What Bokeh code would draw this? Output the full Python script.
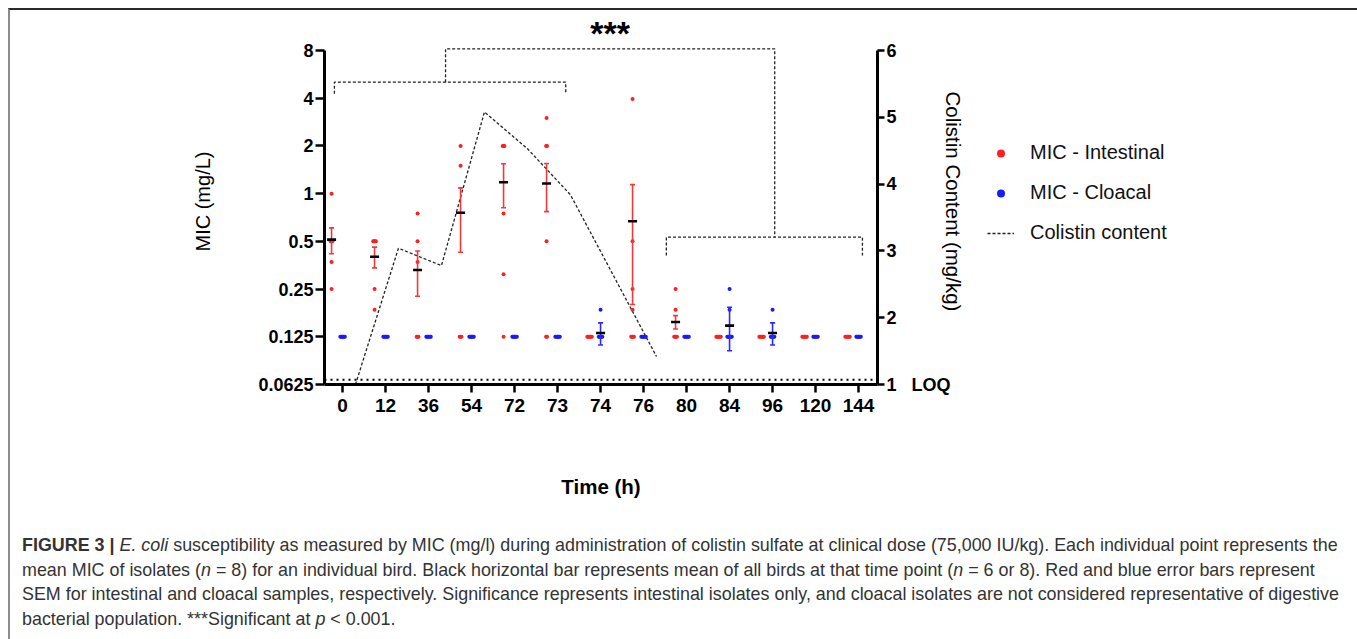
import math
from collections import Counter

from bokeh.plotting import figure
from bokeh.models import (Range1d, LinearAxis, LinearScale, FixedTicker, CustomJSTickFormatter,
                          ColumnDataSource, Label, Legend, LegendItem, Div)
from bokeh.layouts import column, row
from bokeh.embed import file_html
from bokeh.resources import INLINE

NaN = float("nan")

# ---------------- data ----------------
times = ["0", "12", "36", "54", "72", "73", "74", "76", "80", "84", "96", "120", "144"]
mic_ticks = [0.0625, 0.125, 0.25, 0.5, 1, 2, 4, 8]
colistin_ticks = [1, 2, 3, 4, 5, 6]

intestinal_points = [
    [1.0, 0.5, 0.5, 0.5, 0.37, 0.25],
    [0.5, 0.5, 0.5, 0.5, 0.25, 0.185],
    [0.75, 0.5, 0.37, 0.125, 0.125, 0.125],
    [2.0, 1.5, 0.125, 0.125, 0.125],
    [2.0, 2.0, 2.0, 0.75, 0.31, 0.125],
    [3.0, 2.0, 2.0, 0.5, 0.125, 0.125],
    [0.125, 0.125, 0.125, 0.125, 0.125, 0.125],
    [3.95, 0.5, 0.25, 0.185, 0.125, 0.125, 0.125, 0.125],
    [0.25, 0.185, 0.125, 0.125, 0.125, 0.125],
    [0.125, 0.125, 0.125, 0.125, 0.125, 0.125],
    [0.125, 0.125, 0.125, 0.125, 0.125, 0.125],
    [0.125, 0.125, 0.125, 0.125, 0.125, 0.125],
    [0.125, 0.125, 0.125, 0.125, 0.125, 0.125],
]
intestinal_mean = [0.513, 0.40, 0.33, 0.757, 1.18, 1.16, NaN, 0.67, 0.155, NaN, NaN, NaN, NaN]
intestinal_sem = [0.095, 0.06, 0.105, 0.33, 0.365, 0.39, NaN, 0.47, 0.015, NaN, NaN, NaN, NaN]

cloacal_points = [
    [0.125] * 6,
    [0.125] * 6,
    [0.125] * 6,
    [0.125] * 6,
    [0.125] * 6,
    [0.125] * 6,
    [0.185, 0.125, 0.125, 0.125, 0.125, 0.125],
    [0.125] * 6,
    [0.125] * 6,
    [0.25, 0.185, 0.125, 0.125, 0.125, 0.125, 0.125, 0.125],
    [0.185, 0.125, 0.125, 0.125, 0.125, 0.125],
    [0.125] * 6,
    [0.125] * 6,
]
cloacal_mean = [NaN, NaN, NaN, NaN, NaN, NaN, 0.132, NaN, NaN, 0.147, 0.132, NaN, NaN]
cloacal_sem = [NaN, NaN, NaN, NaN, NaN, NaN, 0.021, NaN, NaN, 0.045, 0.021, NaN, NaN]

colistin_times = ["0", "12", "36", "54", "72", "73", "76"]
colistin_content = [1.0, 3.04, 2.78, 5.08, 4.53, 3.84, 1.42]
loq = 1.07
loq_text = "LOQ"

legend_labels = ["MIC - Intestinal", "MIC - Cloacal", "Colistin content"]

# significance brackets (category-index span, bar level, leg level on MIC axis)
sig_left = dict(x0=-0.19, x1=5.19, bar=5.05, leg=4.27, hook=2.395)
sig_right = dict(x0=7.53, x1=12.09, bar=0.531, leg=0.407, hook=10.05)
sig_top = 8.2
sig_text = "***"

# ---------------- geometry ----------------
PX = 1 / 43.0            # one pixel in category units
RED_OFF = -11 * PX
BLUE_OFF = 0.0
STEP = 0.9 * PX
COL_OFF = 0.30

TOTAL_W = 1343
FIG_W, FIG_H = 970, 505
LEG_W = TOTAL_W - FIG_W
LEFT, TOP = 314, 8
FRAME_W, FRAME_H = 553, 366
AXIS_PX = 334            # pixels between 0.0625 and 8
HEAD = FRAME_H - AXIS_PX

FONT = "Liberation Sans"
RED = "#ff1f1f"
BLUE = "#1a1aff"

x_start = -0.42
x_end = x_start + FRAME_W * PX
y_end = 8 * 2 ** (7 * HEAD / AXIS_PX)
c_end = 6 + 5 * HEAD / AXIS_PX

p = figure(width=FIG_W, height=FIG_H, output_backend="svg", toolbar_location=None,
           x_range=Range1d(x_start, x_end), y_range=Range1d(0.0625, y_end),
           y_axis_type="log",
           min_border_left=LEFT, min_border_top=TOP,
           min_border_right=FIG_W - LEFT - FRAME_W,
           min_border_bottom=FIG_H - TOP - FRAME_H)
p.extra_y_ranges = {"col": Range1d(1, c_end)}
p.extra_y_scales = {"col": LinearScale()}
p.grid.visible = False
p.outline_line_color = None
p.background_fill_color = "white"
p.border_fill_color = "white"


def style_axis(ax, tick_size):
    ax.axis_line_width = 3
    ax.axis_line_color = "black"
    ax.major_tick_line_width = 2.5
    ax.major_tick_line_color = "black"
    ax.major_tick_in = 0
    ax.minor_tick_line_color = None
    ax.major_label_text_font = FONT
    ax.major_label_text_font_style = "bold"
    ax.major_label_text_font_size = tick_size
    ax.major_label_text_color = "black"
    ax.axis_label_text_font = FONT
    ax.axis_label_text_color = "black"


# x axis
xa = p.xaxis[0]
style_axis(xa, "19px")
xa.ticker = FixedTicker(ticks=list(range(len(times))))
xa.formatter = CustomJSTickFormatter(args=dict(labels=times),
                                     code="return labels[Math.round(tick)] || '';")
xa.major_tick_out = 8
xa.major_label_standoff = 6
xa.axis_label = "Time (h)"
xa.axis_label_text_font_size = "20.5px"
xa.axis_label_text_font_style = "bold"
xa.axis_label_standoff = 60

# left axis
ya = p.yaxis[0]
style_axis(ya, "18px")
ya.ticker = FixedTicker(ticks=mic_ticks)
ya.formatter = CustomJSTickFormatter(code="return String(tick);")
ya.bounds = (mic_ticks[0], mic_ticks[-1])
ya.major_tick_out = 9
ya.major_label_standoff = 2
ya.axis_label = "MIC (mg/L)"
ya.axis_label_text_font_size = "20px"
ya.axis_label_text_font_style = "normal"
ya.axis_label_standoff = 41

# right axis (the LOQ marker sits beside the lowest tick)
ra = LinearAxis(y_range_name="col")
style_axis(ra, "18px")
ra.ticker = FixedTicker(ticks=colistin_ticks)
ra.formatter = CustomJSTickFormatter(
    args=dict(lowest=colistin_ticks[0], extra=loq_text),
    code="return tick == lowest ? String(tick) + '\\u00a0\\u00a0\\u00a0' + extra : String(tick);")
ra.bounds = (colistin_ticks[0], colistin_ticks[-1])
ra.major_tick_out = 7
ra.major_label_standoff = 2
ra.axis_label = "Colistin Content (mg/kg)"
ra.axis_label_text_font_size = "20.5px"
ra.axis_label_text_font_style = "normal"
ra.axis_label_standoff = -12
p.add_layout(ra, "right")


# ---------------- marks ----------------
def swarm(values, center):
    counts = Counter(values)
    seen = Counter()
    xs = []
    for v in values:
        n, k = counts[v], seen[v]
        seen[v] += 1
        xs.append(center + (k - (n - 1) / 2) * STEP)
    return xs


def group_points(points, off):
    xs, ys = [], []
    for i, vals in enumerate(points):
        xs += swarm(vals, i + off)
        ys += vals
    return ColumnDataSource(dict(x=xs, y=ys))


def group_stats(means, sems, off):
    d = dict(x=[], m=[], lo=[], hi=[])
    for i, (m, s) in enumerate(zip(means, sems)):
        if math.isnan(m):
            continue
        d["x"].append(i + off)
        d["m"].append(m)
        d["lo"].append(m - s)
        d["hi"].append(m + s)
    return ColumnDataSource(d)


POINT_STYLE = dict(size=4, line_color=None)
COL_STYLE = dict(line_color="#222222", line_width=1.3, line_dash="3 2")

# LOQ dotted line
p.line([x_start, x_end], [loq, loq], y_range_name="col", line_color="black",
       line_width=2, line_dash="2 4")

# colistin content line
col_src = ColumnDataSource(dict(x=[times.index(t) + COL_OFF for t in colistin_times],
                                y=colistin_content))
p.line("x", "y", source=col_src, y_range_name="col", **COL_STYLE)

# brackets
bx, by = [], []
for s in (sig_left, sig_right):
    bx.append([s["x0"], s["x0"], s["x1"], s["x1"]])
    by.append([s["leg"], s["bar"], s["bar"], s["leg"]])
bx.append([sig_left["hook"], sig_left["hook"], sig_right["hook"], sig_right["hook"]])
by.append([sig_left["bar"], sig_top, sig_top, sig_right["bar"]])
p.multi_line(bx, by, line_color="#222222", line_width=1.3, line_dash="3 2")

# points
red_src = group_points(intestinal_points, RED_OFF)
blue_src = group_points(cloacal_points, BLUE_OFF)
p.scatter("x", "y", source=red_src, fill_color=RED, **POINT_STYLE)
p.scatter("x", "y", source=blue_src, fill_color=BLUE, **POINT_STYLE)

# error bars and means
for means, sems, off, color in ((intestinal_mean, intestinal_sem, RED_OFF, "#f03a3a"),
                                (cloacal_mean, cloacal_sem, BLUE_OFF, "#2a2aff")):
    st = group_stats(means, sems, off)
    p.segment("x", "lo", "x", "hi", source=st, line_color=color, line_width=1.6)
    p.scatter("x", "lo", source=st, marker="dash", size=5, line_color=color, line_width=1.6)
    p.scatter("x", "hi", source=st, marker="dash", size=5, line_color=color, line_width=1.6)
    p.scatter("x", "m", source=st, marker="dash", size=9, line_color="black", line_width=2.6)

# significance text
p.add_layout(Label(x=(sig_left["hook"] + sig_right["hook"]) / 2, y=sig_top,
                   text=sig_text, text_align="center", text_baseline="middle",
                   y_offset=16, text_font=FONT, text_font_style="bold",
                   text_font_size="34px", text_color="black"))

# ---------------- legend panel ----------------
# A companion canvas to the right of the chart holds the legend; its renderers share the
# chart's data sources, while its ranges keep those marks out of view.
pl = figure(width=LEG_W, height=FIG_H, output_backend="svg", toolbar_location=None,
            x_axis_location=None, y_axis_location=None, min_border=0,
            x_range=Range1d(-3, -2), y_range=Range1d(0, 1))
pl.grid.visible = False
pl.outline_line_color = None
pl.border_fill_color = "white"
pl.background_fill_color = "white"
lr_red = pl.scatter("x", "y", source=red_src, fill_color=RED, **POINT_STYLE)
lr_blue = pl.scatter("x", "y", source=blue_src, fill_color=BLUE, **POINT_STYLE)
lr_col = pl.line("x", "y", source=col_src, **COL_STYLE)
legend = Legend(items=[LegendItem(label=lab, renderers=[r])
                       for lab, r in zip(legend_labels, (lr_red, lr_blue, lr_col))],
                location=(7, 140), padding=0, margin=0, border_line_color=None,
                background_fill_alpha=0, glyph_width=27, glyph_height=20,
                label_height=20, spacing=17, label_standoff=16,
                label_text_font=FONT, label_text_font_size="20px",
                label_text_color="#111111")
pl.add_layout(legend)

caption_lines = [
    "<b>FIGURE 3 |</b> <i>E. coli</i> susceptibility as measured by MIC (mg/l) during administration "
    "of colistin sulfate at clinical dose (75,000 IU/kg). Each individual point represents the",
    "mean MIC of isolates (<i>n</i> = 8) for an individual bird. Black horizontal bar represents mean "
    "of all birds at that time point (<i>n</i> = 6 or 8). Red and blue error bars represent",
    "SEM for intestinal and cloacal samples, respectively. Significance represents intestinal "
    "isolates only, and cloacal isolates are not considered representative of digestive",
    "bacterial population. ***Significant at <i>p</i> &lt; 0.001.",
]
caption = Div(text=("<div style=\"font-family:'Liberation Sans',Arial,sans-serif;font-size:17.9px;"
                    "line-height:24.6px;color:#333;white-space:nowrap;padding:13px 0 0 7px;\">"
                    + "<br>".join(caption_lines) + "</div>"),
              width=TOTAL_W, height=116)

layout = column(row(p, pl, spacing=0), caption, spacing=0,
                styles={"margin": "8px 0 0 8px",
                        "border-top": "2px solid #2b2b2b",
                        "border-left": "2px solid #8c8c8c",
                        "border-right": "2px solid #8c8c8c"})

open("out.html", "w").write(file_html(layout, INLINE))
